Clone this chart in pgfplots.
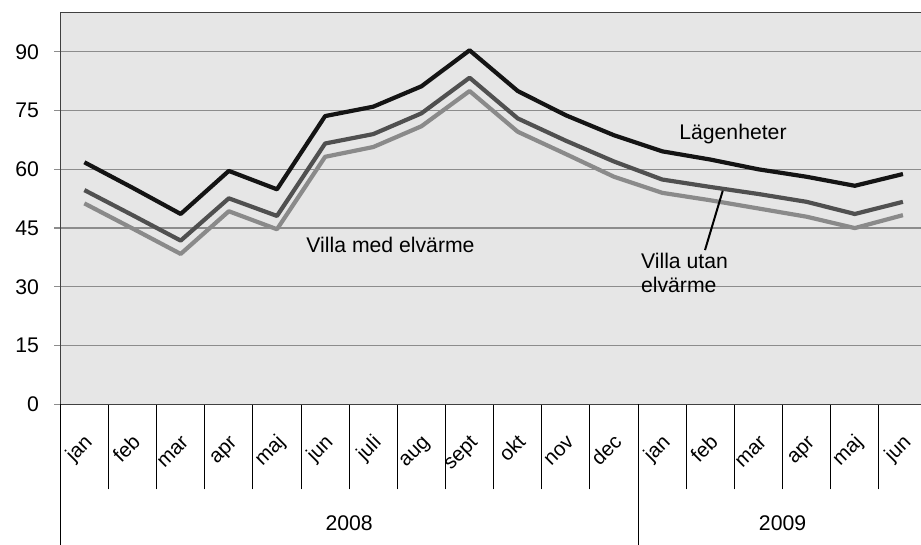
\documentclass[border=0pt]{standalone}
\usepackage{fontspec}
\setmainfont{Liberation Sans}
\usepackage{pgfplots}
\pgfplotsset{compat=1.18}

\definecolor{bgfill}{HTML}{E6E6E6}
\definecolor{gridc}{HTML}{8C8C8C}
\definecolor{lag}{HTML}{141414}
\definecolor{utan}{HTML}{505050}
\definecolor{med}{HTML}{8A8A8A}

\begin{document}
\fontsize{10.6}{12}\selectfont
\begin{tikzpicture}
\useasboundingbox (-30.15pt,-70.35pt) rectangle (430.35pt,202.15pt);
\begin{axis}[
    at={(0,0)}, anchor=south west,
    width=430.35pt, height=195.8pt, scale only axis,
    xmin=-0.5, xmax=17.375, ymin=0, ymax=100,
    clip=false,
    axis lines*=left,
    axis line style={black!75, line width=0.7pt},
    axis background/.style={fill=bgfill},
    ytick={0,15,...,90},
    ymajorgrids,
    grid style={gridc, line width=0.6pt},
    tick align=outside,
    major tick length=3pt,
    ytick style={gridc, line width=0.6pt},
    yticklabel style={xshift=-4pt},
    /pgf/number format/assume math mode=true,
    xtick={0,...,17},
    xticklabels={jan,feb,mar,apr,maj,jun,juli,aug,sept,okt,nov,dec,jan,feb,mar,apr,maj,jun},
    major x tick style={draw=none},
    minor xtick={-0.5,0.5,...,16.5},
    minor x tick style={black, line width=0.5pt},
    minor tick length=42.5pt,
    xticklabel shift=0pt,
    xticklabel style={inner sep=0pt, anchor=east, text height=1.6ex, text depth=0.3ex,
        font=\fontsize{10.2}{12}\selectfont, xshift=2pt, yshift=-14pt, rotate=45},
]
\addplot[med, line width=2.1pt, line join=round] coordinates {
(0,51.3) (1,44.9) (2,38.4) (3,49.3) (4,44.7) (5,63.2) (6,65.7) (7,71.0) (8,80.0)
(9,69.6) (10,63.9) (11,58.1) (12,54.0) (13,52.1) (14,50.0) (15,47.9) (16,45.0) (17,48.3)};
\addplot[utan, line width=2.1pt, line join=round] coordinates {
(0,54.7) (1,48.3) (2,41.8) (3,52.6) (4,48.1) (5,66.6) (6,69.0) (7,74.3) (8,83.4)
(9,73.0) (10,67.3) (11,62.0) (12,57.4) (13,55.5) (14,53.7) (15,51.7) (16,48.6) (17,51.7)};
\addplot[lag, line width=2.1pt, line join=round] coordinates {
(0,61.8) (1,55.3) (2,48.6) (3,59.6) (4,54.9) (5,73.6) (6,76.0) (7,81.2) (8,90.4)
(9,80.0) (10,73.8) (11,68.7) (12,64.6) (13,62.5) (14,60.0) (15,58.1) (16,55.8) (17,58.8)};

\draw[black!75, line width=0.7pt] (rel axis cs:0,1) -- (rel axis cs:1,1);
\draw[black, line width=0.5pt] (axis cs:-0.5,0) -- ([yshift=-70.35pt]axis cs:-0.5,0);
\draw[black, line width=0.5pt] (axis cs:11.5,0) -- ([yshift=-70.35pt]axis cs:11.5,0);
\node at ([yshift=-59.4pt]axis cs:5.5,0) {2008};
\node at ([yshift=-59.4pt]axis cs:14.5,0) {2009};

\node at (axis cs:13.47,69.0) {Lägenheter};
\node at (axis cs:6.358,40.66) {Villa med elvärme};
\node[anchor=west, align=left, inner sep=0pt] at (axis cs:11.554,33.5) {Villa utan\\elvärme};
\draw[black, line width=1pt] (axis cs:12.889,39.38) -- (axis cs:13.257,54.51);
\end{axis}
\end{tikzpicture}
\end{document}
